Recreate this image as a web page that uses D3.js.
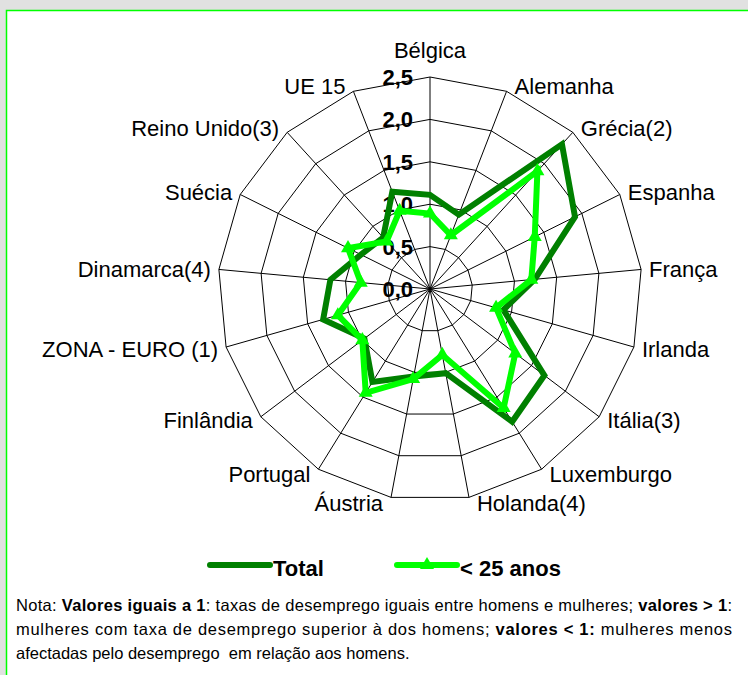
<!DOCTYPE html>
<html>
<head>
<meta charset="utf-8">
<script src="https://cdn.jsdelivr.net/npm/d3@7"></script>
<style>
  html, body { margin: 0; padding: 0; background: #e1e1e1; }
  svg { display: block; }
</style>
</head>
<body>
<div id="chart"></div>
<script>
// categories, clockwise from the top
const categories = ["Bélgica", "Alemanha", "Grécia(2)", "Espanha", "França", "Irlanda", "Itália(3)",
  "Luxemburgo", "Holanda(4)", "Áustria", "Portugal", "Finlândia", "ZONA - EURO (1)",
  "Dinamarca(4)", "Suécia", "Reino Unido(3)", "UE 15"];

const totalValues = [1.11, 0.94, 2.31, 1.91, 1.24, 0.90, 1.69, 1.84, 1.01, 1.05, 1.29, 0.97, 1.31, 1.18, 0.91, 0.82, 1.23];
const youngValues = [0.89, 0.68, 1.88, 1.38, 1.20, 0.81, 1.26, 1.65, 0.79, 1.08, 1.44, 1.00, 1.13, 0.82, 1.08, 0.76, 0.99];

const tickValues = [0, 0.5, 1, 1.5, 2, 2.5];
const tickLabels = ["0,0", "0,5", "1,0", "1,5", "2,0", "2,5"];

const seriesNames = ["Total", "< 25 anos"];

const noteLines = [
  [["Nota: ", false], ["Valores iguais a 1", true], [": taxas de desemprego iguais entre homens e mulheres; ", false], ["valores > 1", true], [":", false]],
  [["mulheres com taxa de desemprego superior à dos homens; ", false], ["valores < 1:", true], [" mulheres menos", false]],
  [["afectadas pelo desemprego  em relação aos homens.", false]]
];

const width = 748, height = 675;
const cx = 430, cy = 289, R = 212;
const darkGreen = "#008000", lightGreen = "#00ff00";

const svg = d3.select("#chart").append("svg")
  .attr("width", width)
  .attr("height", height)
  .style("font-family", "'Liberation Sans', Arial, sans-serif");

// white panel with green frame
svg.append("rect")
  .attr("x", 6.5).attr("y", 10.5)
  .attr("width", width + 10).attr("height", height + 10)
  .attr("fill", "white")
  .attr("stroke", lightGreen)
  .attr("stroke-width", 1.5);

const r = d3.scaleLinear().domain([0, 2.5]).range([0, R]);
const angle = d3.scaleLinear().domain([0, categories.length]).range([0, 2 * Math.PI]);

const g = svg.append("g").attr("transform", `translate(${cx},${cy})`);

// grid rings
const ring = d3.lineRadial().angle((d, i) => angle(i)).radius(d => r(d)).curve(d3.curveLinearClosed);
g.selectAll(".ring")
  .data(tickValues.slice(1))
  .enter()
  .append("path")
  .attr("class", "ring")
  .attr("d", v => ring(categories.map(() => v)))
  .attr("fill", "none")
  .attr("stroke", "black")
  .attr("stroke-width", 1);

// spokes
g.selectAll(".spoke")
  .data(categories)
  .enter()
  .append("line")
  .attr("class", "spoke")
  .attr("x1", 0).attr("y1", 0)
  .attr("x2", (d, i) => r(2.5) * Math.sin(angle(i)))
  .attr("y2", (d, i) => -r(2.5) * Math.cos(angle(i)))
  .attr("stroke", "black")
  .attr("stroke-width", 1);

// value labels along the top spoke
g.selectAll(".tick")
  .data(tickValues)
  .enter()
  .append("text")
  .attr("class", "tick")
  .attr("x", -17)
  .attr("y", d => -r(d))
  .attr("dy", "0.36em")
  .attr("text-anchor", "end")
  .style("font-size", "22px")
  .style("font-weight", "bold")
  .text((d, i) => tickLabels[i]);

// series
const line = d3.lineRadial().angle((d, i) => angle(i)).radius(d => r(d)).curve(d3.curveLinearClosed);

g.append("path")
  .attr("d", line(totalValues))
  .attr("fill", "none")
  .attr("stroke", darkGreen)
  .attr("stroke-width", 6)
  .attr("stroke-linejoin", "miter");

g.append("path")
  .attr("d", line(youngValues))
  .attr("fill", "none")
  .attr("stroke", lightGreen)
  .attr("stroke-width", 6)
  .attr("stroke-linejoin", "miter");

const tri = d3.symbol(d3.symbolTriangle, 85);
g.selectAll(".marker")
  .data(youngValues)
  .enter()
  .append("path")
  .attr("class", "marker")
  .attr("d", tri)
  .attr("transform", (d, i) => `translate(${r(d) * Math.sin(angle(i))},${-r(d) * Math.cos(angle(i))})`)
  .attr("fill", lightGreen);

// category labels
g.selectAll(".cat")
  .data(categories)
  .enter()
  .append("text")
  .attr("class", "cat")
  .attr("x", (d, i) => {
    const s = Math.sin(angle(i));
    return R * s + (Math.abs(s) < 0.01 ? 0 : (s > 0 ? 8 : -8));
  })
  .attr("y", (d, i) => {
    const c = Math.cos(angle(i));
    if (i === 0) return -R - 19;
    return -R * c - 6 * c;
  })
  .attr("dy", (d, i) => i === 0 ? 0 : "0.36em")
  .attr("text-anchor", (d, i) => {
    const s = Math.sin(angle(i));
    return Math.abs(s) < 0.01 ? "middle" : (s > 0 ? "start" : "end");
  })
  .style("font-size", "22px")
  .text(d => d);

// legend
const legend = svg.append("g").attr("transform", "translate(0,565)");
const legendItems = [
  {name: seriesNames[0], x: 210, color: darkGreen, marker: false},
  {name: seriesNames[1], x: 397, color: lightGreen, marker: true}
];
legendItems.forEach(item => {
  legend.append("line")
    .attr("x1", item.x).attr("x2", item.x + 60)
    .attr("y1", 0).attr("y2", 0)
    .attr("stroke", item.color)
    .attr("stroke-width", 6)
    .attr("stroke-linecap", "round");
  if (item.marker) {
    legend.append("path")
      .attr("d", tri)
      .attr("transform", `translate(${item.x + 30},0)`)
      .attr("fill", item.color);
  }
  legend.append("text")
    .attr("x", item.x + 63)
    .attr("y", 11)
    .style("font-size", "22px")
    .style("font-weight", "bold")
    .text(item.name);
});

// note
const note = svg.append("g");
noteLines.forEach((parts, li) => {
  const t = note.append("text")
    .attr("x", 16)
    .attr("y", 611 + li * 24)
    .style("font-size", "16.5px")
    .style("white-space", "pre");
  if (li < 2) t.attr("textLength", 716).attr("lengthAdjust", "spacing");
  parts.forEach(p => {
    t.append("tspan")
      .style("font-weight", p[1] ? "bold" : "normal")
      .text(p[0]);
  });
});
</script>
</body>
</html>
